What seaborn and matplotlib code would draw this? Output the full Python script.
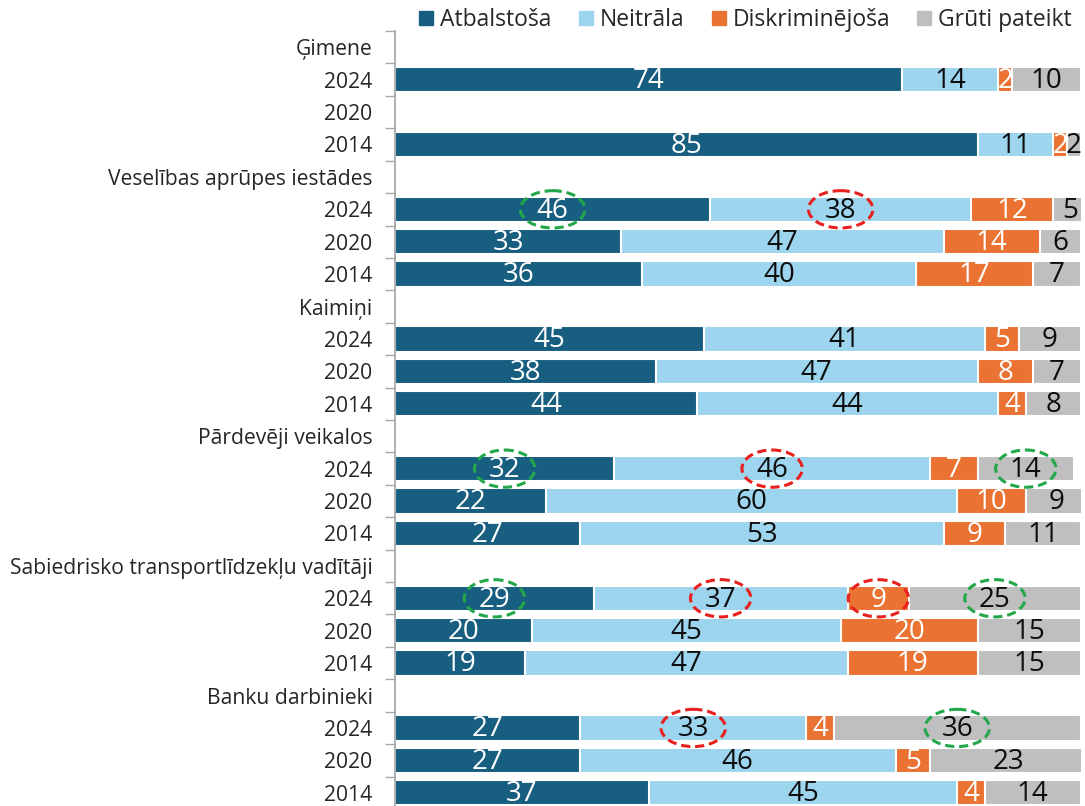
import numpy as np
import pandas as pd
import seaborn as sns
import matplotlib.pyplot as plt
from matplotlib.patches import Ellipse
from matplotlib.lines import Line2D

# rindas no augšas uz leju
rinduNosaukumi = ["Ģimene", "2024", "2020", "2014",
                  "Veselības aprūpes iestādes", "2024", "2020", "2014",
                  "Kaimiņi", "2024", "2020", "2014",
                  "Pārdevēji veikalos", "2024", "2020", "2014",
                  "Sabiedrisko transportlīdzekļu vadītāji", "2024", "2020", "2014",
                  "Banku darbinieki", "2024", "2020", "2014"]
kategorijas = ["Atbalstoša", "Neitrāla", "Diskriminējoša", "Grūti pateikt"]
nan = np.nan
atbalstosa =     [nan, 74, nan, 85, nan, 46, 33, 36, nan, 45, 38, 44, nan, 32, 22, 27, nan, 29, 20, 19, nan, 27, 27, 37]
neitrala =       [nan, 14, nan, 11, nan, 38, 47, 40, nan, 41, 47, 44, nan, 46, 60, 53, nan, 37, 45, 47, nan, 33, 46, 45]
diskriminejosa = [nan, 2, nan, 2, nan, 12, 14, 17, nan, 5, 8, 4, nan, 7, 10, 9, nan, 9, 20, 19, nan, 4, 5, 4]
gruti =          [nan, 10, nan, 2, nan, 5, 6, 7, nan, 9, 7, 8, nan, 14, 9, 11, nan, 25, 15, 15, nan, 36, 23, 14]

# apļi ap vērtībām: (rinda, kategorija, krāsa)
apli = [(5, 0, "g"), (5, 1, "r"),
        (13, 0, "g"), (13, 1, "r"), (13, 3, "g"),
        (17, 0, "g"), (17, 1, "r"), (17, 2, "r"), (17, 3, "g"),
        (21, 1, "r"), (21, 3, "g")]

krasas = ["#185e80", "#9dd5ef", "#ea7233", "#bfbfbf"]
tekstaKrasas = ["white", "#0d0d0d", "white", "#0d0d0d"]
apluKrasas = {"g": "#22a84a", "r": "#e8201e"}

sns.set_theme(style="white")
plt.rcParams['font.family'] = ['Open Sans', 'DejaVu Sans']

vertibas = np.array([atbalstosa, neitrala, diskriminejosa, gruti], dtype=float)
kumul = np.nancumsum(vertibas, axis=0)
kumul[np.isnan(vertibas)] = 0
rindas = [f"r{i}" for i in range(len(rinduNosaukumi))]

fig = plt.figure(figsize=(10.85, 8.06), dpi=100)
ax = fig.add_axes([0.364, -0.0037, 0.632, 0.9652])

# stacked bars: zīmē kumulatīvās summas no garākās uz īsāko
for k in range(3, -1, -1):
    df = pd.DataFrame({'rinda': rindas, 'x': kumul[k]})
    sns.barplot(data=df, x='x', y='rinda', order=rindas, orient='h', color=krasas[k],
                saturation=1, width=0.78, edgecolor='white', linewidth=1.5, ax=ax, errorbar=None)

for k in range(4):
    for i in range(len(rindas)):
        v = vertibas[k, i]
        if np.isnan(v):
            continue
        c = kumul[k, i] - v / 2
        ax.text(c, i + 0.04, f"{int(v)}", ha='center', va='center', fontsize=20,
                color=tekstaKrasas[k], clip_on=True)

for i, k, kr in apli:
    c = kumul[k, i] - vertibas[k, i] / 2
    plat = 9.4 if i in (5, 21) else 8.8
    ax.add_patch(Ellipse((c, i), width=plat, height=1.15, fill=False,
                         edgecolor=apluKrasas[kr], linestyle=(0, (3, 1.6)), linewidth=2.2))

ax.set_xlim(0, 100)
ax.set_ylim(len(rindas) - 0.5, -0.5)
ax.set_xlabel('')
ax.set_ylabel('')
ax.set_xticks([])
ax.set_yticks(range(len(rindas)))
ax.set_yticklabels(rinduNosaukumi, fontsize=15.2, color='#262626')
ax.set_yticks(np.arange(-0.5, len(rindas), 1), minor=True)
ax.tick_params(axis='y', which='major', length=0, pad=16)
ax.tick_params(axis='y', which='minor', length=7, width=1, color='#a6a6a6', left=True)
for s in ['top', 'right', 'bottom']:
    ax.spines[s].set_visible(False)
ax.spines['left'].set_color('#a6a6a6')

rokturi = [Line2D([0], [0], marker='s', linestyle='', markersize=10, color=krasas[k]) for k in range(4)]
fig.legend(rokturi, kategorijas, loc='center', bbox_to_anchor=(0.685, 0.975), ncol=4,
           frameon=False, fontsize=16.5, handletextpad=0.1, columnspacing=1.0, handlelength=1.0)

fig.savefig('out.png', dpi=100)
